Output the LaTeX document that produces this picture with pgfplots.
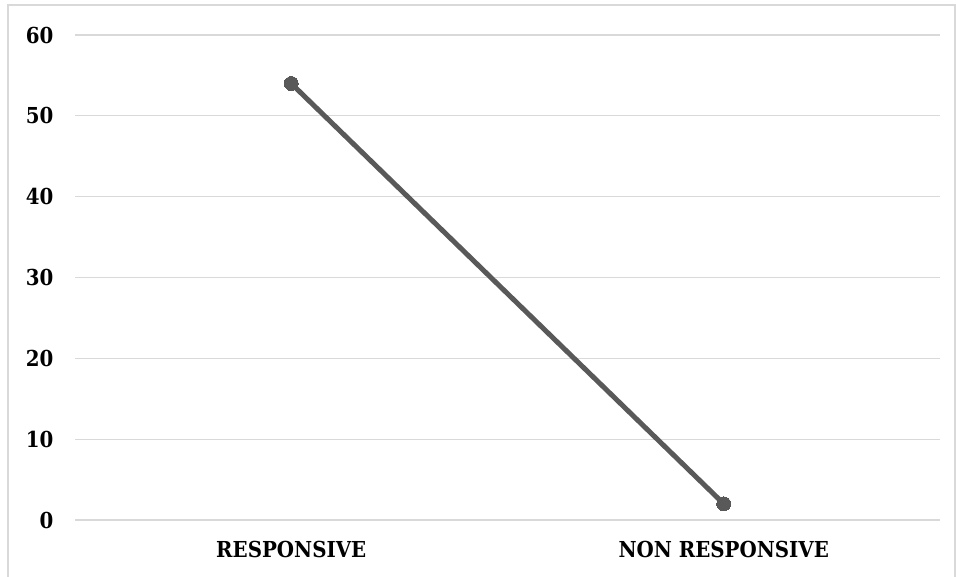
\documentclass[border=0pt]{standalone}
\usepackage{pgfplots}
\pgfplotsset{compat=1.18}
\usepackage{fontspec}
\setmainfont{DejaVu Serif Condensed}
\definecolor{linegray}{HTML}{595959}
\definecolor{gridgray}{HTML}{D9D9D9}
\begin{document}
\begin{tikzpicture}
% page frame, 956 x 577
\path[use as bounding box] (0pt,0pt) rectangle (956pt,577pt);
\draw[gridgray,line width=1.5pt] (8pt,0pt) -- (8pt,572pt) -- (955pt,572pt) -- (955pt,0pt);
\begin{axis}[
  at={(75pt,57pt)}, anchor=south west,
  scale only axis, width=865pt, height=485pt,
  xmin=-0.5, xmax=1.5, ymin=0, ymax=60,
  xtick={0,1}, xticklabels={RESPONSIVE,NON RESPONSIVE},
  ytick={0,10,...,60},
  ymajorgrids, grid style={gridgray,line width=1.3pt},
  axis line style={draw=none}, major tick length=0,
  tick label style={font=\fontsize{22}{24}\selectfont\bfseries},
  yticklabel style={xshift=-18pt},
  xticklabel style={yshift=-18pt,font=\fontsize{22}{24}\selectfont\bfseries},
  /pgf/number format/assume math mode=true,
  clip=false,
]
\addplot[linegray, line width=5pt, mark=*, mark size=7pt,
         mark options={fill=linegray,draw=linegray,line width=0pt}]
  coordinates {(0,54) (1,2)};
\end{axis}
\end{tikzpicture}
\end{document}
